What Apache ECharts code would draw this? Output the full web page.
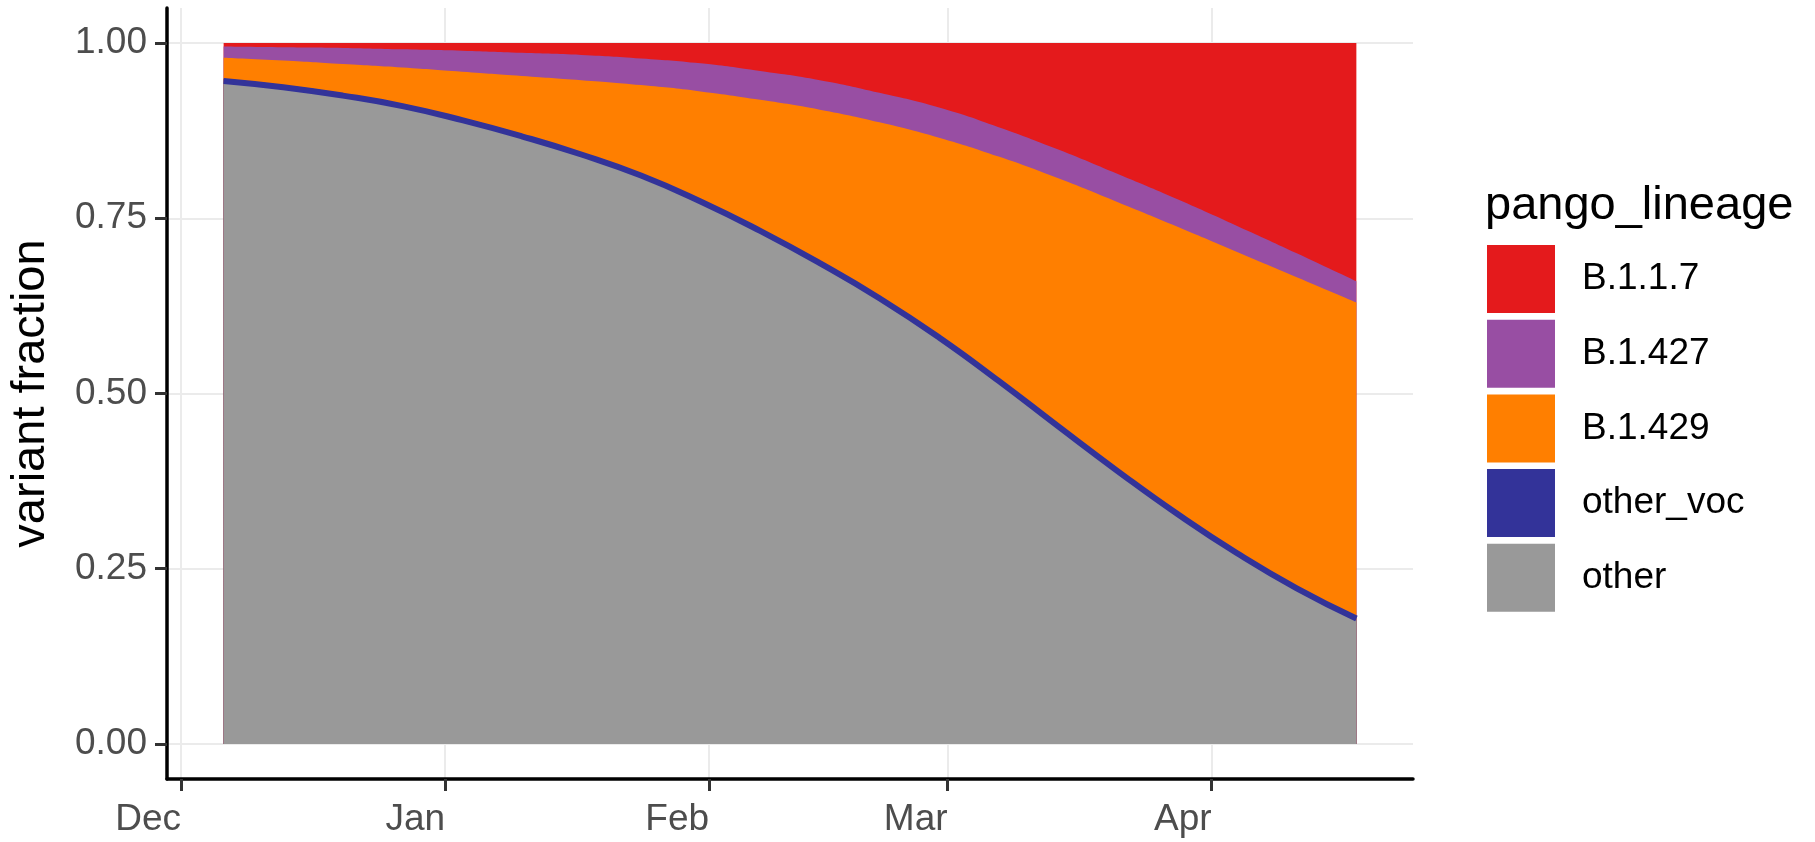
<!DOCTYPE html>
<html>
<head>
<meta charset="utf-8">
<script src="https://cdn.jsdelivr.net/npm/echarts@6/dist/echarts.min.js"></script>
<style>
  html, body { margin: 0; padding: 0; background: #fff; }
  #chart { width: 1815px; height: 842px; }
</style>
</head>
<body>
<div id="chart"></div>
<script>
// weekly estimates
const dates = [
  '2020-12-06', '2020-12-13', '2020-12-20', '2020-12-27',
  '2021-01-03', '2021-01-10', '2021-01-17', '2021-01-24', '2021-01-31',
  '2021-02-07', '2021-02-14', '2021-02-21', '2021-02-28',
  '2021-03-07', '2021-03-14', '2021-03-21', '2021-03-28',
  '2021-04-04', '2021-04-11', '2021-04-18',
];
const other = [0.943, 0.934, 0.922, 0.907, 0.887, 0.864, 0.838, 0.808, 0.771, 0.729,
  0.683, 0.633, 0.577, 0.515, 0.450, 0.386, 0.325, 0.269, 0.219, 0.176];
const otherVoc = [0.006, 0.006, 0.006, 0.006, 0.006, 0.006, 0.006, 0.006, 0.006, 0.006,
  0.006, 0.006, 0.006, 0.006, 0.006, 0.006, 0.006, 0.006, 0.006, 0.006];
const b1429 = [0.030, 0.035, 0.042, 0.052, 0.066, 0.083, 0.103, 0.126, 0.154, 0.184,
  0.216, 0.248, 0.282, 0.317, 0.351, 0.381, 0.407, 0.427, 0.441, 0.448];
const b1427 = [0.016, 0.019, 0.023, 0.026, 0.030, 0.033, 0.036, 0.038, 0.040, 0.041,
  0.042, 0.042, 0.043, 0.042, 0.041, 0.040, 0.039, 0.037, 0.034, 0.030];
const b117 = [0.005, 0.006, 0.007, 0.009, 0.011, 0.014, 0.017, 0.022, 0.029, 0.040,
  0.053, 0.071, 0.092, 0.120, 0.152, 0.187, 0.223, 0.261, 0.300, 0.340];

const legendOrder = ['B.1.1.7', 'B.1.427', 'B.1.429', 'other_voc', 'other'];
const tickDates = ['2020-12-01', '2021-01-01', '2021-02-01', '2021-03-01', '2021-04-01'];
const tickLabels = ['Dec', 'Jan', 'Feb', 'Mar', 'Apr'];
const yTicks = [0, 0.25, 0.5, 0.75, 1];

const FONT = '"Liberation Sans", Arial, sans-serif';
const GRID_LINE = { color: '#EBEBEB', width: 2 };

// dates as day numbers (UTC) so a plain value axis can carry custom ticks
function toDay(d) {
  const [y, m, day] = d.split('-').map(Number);
  return Date.UTC(y, m - 1, day) / 86400000;
}

const days = dates.map(toDay);
const tickDays = tickDates.map(toDay);
// ggplot-style 5% expansion of the data range
const span = days[days.length - 1] - days[0];
const xMin = days[0] - span * 0.05;
const xMax = days[days.length - 1] + span * 0.05;

// cumulative tops, bottom layer first; bands are painted largest first
function addArrays(a, b) {
  return a.map((v, i) => v + b[i]);
}
const topOther = other;
const topVoc = addArrays(topOther, otherVoc);
const top429 = addArrays(topVoc, b1429);
const top427 = addArrays(top429, b1427);
const top117 = addArrays(top427, b117);
const vocCentre = topOther.map((v, i) => v + otherVoc[i] / 2);

function areaSeries(name, values, color, extra) {
  return Object.assign({
    name,
    type: 'line',
    smooth: true,
    symbol: 'none',
    showSymbol: false,
    silent: true,
    data: values.map((v, i) => [days[i], v]),
    color,
    lineStyle: { width: 0 },
    areaStyle: { color, opacity: 1 },
  }, extra || {});
}

function buildOption() {
  return {
    animation: false,
    backgroundColor: '#fff',
    textStyle: { fontFamily: FONT },
    grid: { left: 165, right: 402, top: 8, bottom: 63 },
    title: {
      text: 'pango_lineage',
      left: 1485,
      top: 183,
      padding: 0,
      textStyle: { fontSize: 47, fontWeight: 'normal', color: '#000', fontFamily: FONT },
    },
    legend: {
      orient: 'vertical',
      left: 1487,
      top: 245,
      padding: 0,
      itemWidth: 68,
      itemHeight: 68,
      itemGap: 6.7,
      icon: 'rect',
      selectedMode: false,
      data: legendOrder,
      itemStyle: { borderWidth: 0 },
      textStyle: { fontSize: 37, color: '#000', fontFamily: FONT, padding: [0, 0, 0, 22] },
    },
    xAxis: {
      type: 'value',
      min: xMin,
      max: xMax,
      axisLine: { show: true, onZero: false, lineStyle: { color: '#000', width: 3.5 } },
      axisTick: { show: true, customValues: tickDays, length: 12, lineStyle: { color: '#333', width: 3 } },
      axisLabel: {
        customValues: tickDays,
        formatter: (v) => {
          const i = tickDays.findIndex((t) => Math.abs(t - v) < 0.01);
          return i >= 0 ? tickLabels[i] : '';
        },
        align: 'right',
        margin: 22,
        color: '#4D4D4D',
        fontSize: 37,
        fontFamily: FONT,
      },
      splitLine: { show: true, lineStyle: GRID_LINE },
    },
    yAxis: {
      type: 'value',
      min: -0.05,
      max: 1.05,
      name: 'variant fraction',
      nameLocation: 'middle',
      nameGap: 112,
      nameTextStyle: { fontSize: 47, color: '#000', fontFamily: FONT },
      axisLine: { show: true, onZero: false, lineStyle: { color: '#000', width: 3.5 } },
      axisTick: { show: true, customValues: yTicks, length: 12, lineStyle: { color: '#333', width: 3 } },
      axisLabel: {
        customValues: yTicks,
        formatter: (v) => v.toFixed(2),
        margin: 20,
        color: '#4D4D4D',
        fontSize: 37,
        fontFamily: FONT,
      },
      splitLine: { show: true, lineStyle: GRID_LINE },
    },
    series: [
      areaSeries('B.1.1.7', top117, '#E41A1C'),
      areaSeries('B.1.427', top427, '#984EA3'),
      areaSeries('B.1.429', top429, '#FF7F00'),
      areaSeries('other_voc', topVoc, '#333399'),
      areaSeries('other', topOther, '#999999'),
      // the thin other_voc band reads as a solid outline in the reference
      areaSeries('other_voc', vocCentre, '#333399', {
        z: 3,
        areaStyle: null,
        lineStyle: { width: 6, color: '#333399' },
      }),
    ],
  };
}

const chart = echarts.init(document.getElementById('chart'));
chart.setOption(buildOption());
</script>
</body>
</html>
